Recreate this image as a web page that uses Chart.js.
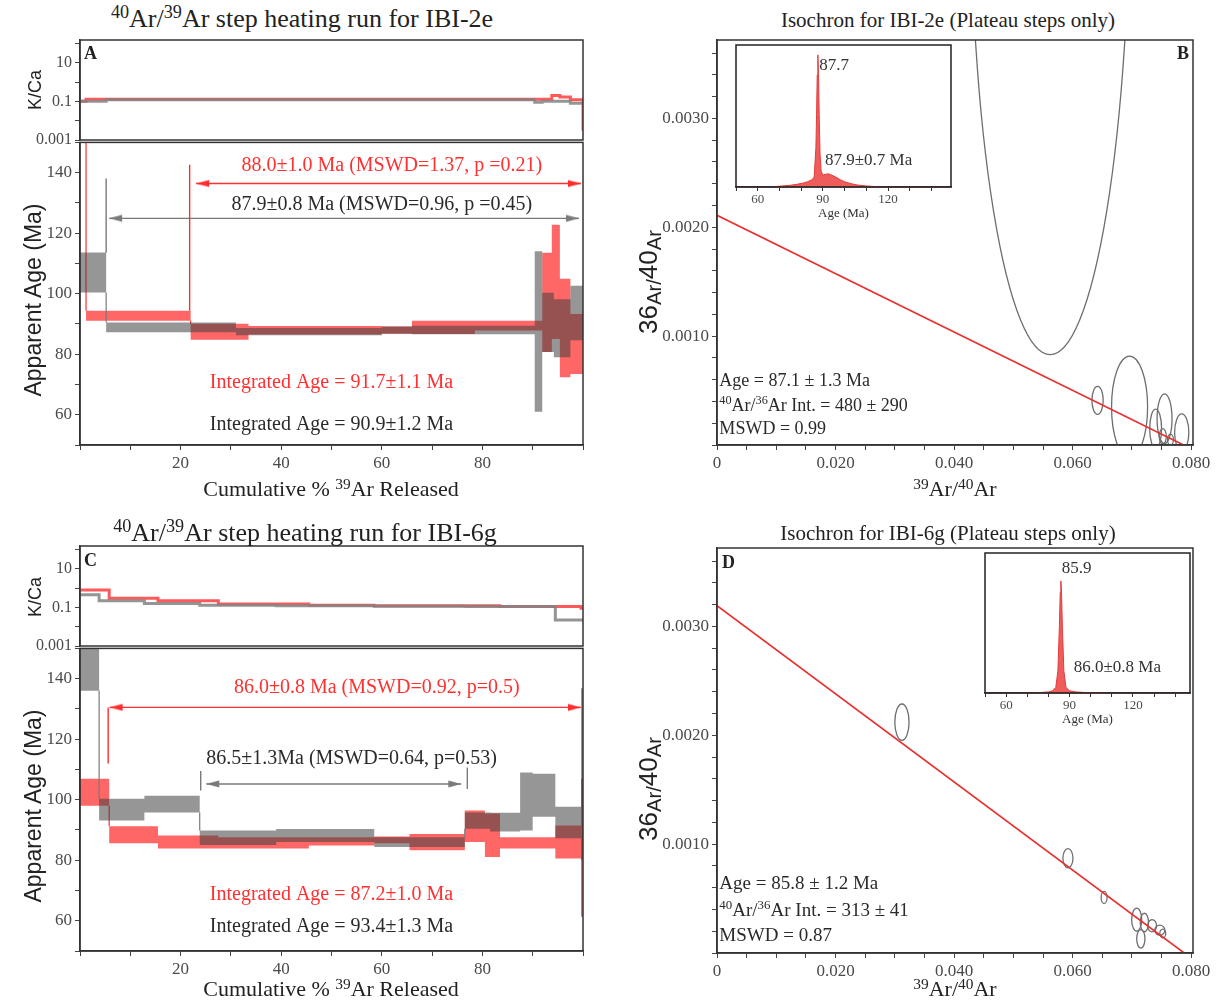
<!DOCTYPE html>
<html>
<head>
<meta charset="utf-8">
<title>40Ar/39Ar step heating spectra and isochrons</title>
<script src="https://cdn.jsdelivr.net/npm/chart.js@4.4.1/dist/chart.umd.min.js"></script>
<style>
  html,body{margin:0;padding:0;background:#fff;}
  #page{position:relative;width:1217px;height:1000px;overflow:hidden;background:#fff;font-family:"Liberation Serif","Times New Roman",serif;color:#222;}
  .box{position:absolute;z-index:1;}
  .inset{z-index:2;}
  .t{position:absolute;white-space:nowrap;line-height:1;z-index:5;}
  .ctr{transform:translate(-50%,-50%);}
  .rot{transform:translate(-50%,-50%) rotate(-90deg);}
  .sans{font-family:"Liberation Sans",Arial,sans-serif;}
  sup{font-size:70%;vertical-align:baseline;position:relative;top:-0.48em;}
  .lo{font-size:78%;position:relative;top:0.22em;}
  .lbl{font-weight:bold;font-size:18px;}
</style>
</head>
<body>
<div id="page">
  <div class="t ctr" style="left:302px;top:19px;font-size:26px;"><sup>40</sup>Ar/<sup>39</sup>Ar step heating run for IBI-2e</div>
  <div class="t ctr" style="left:948px;top:20px;font-size:21px;">Isochron for IBI-2e (Plateau steps only)</div>
  <div class="t ctr" style="left:305px;top:533px;font-size:26px;"><sup>40</sup>Ar/<sup>39</sup>Ar step heating run for IBI-6g</div>
  <div class="t ctr" style="left:948px;top:533px;font-size:21px;">Isochron for IBI-6g (Plateau steps only)</div>

  <div class="t ctr" style="left:331px;top:489px;font-size:22px;">Cumulative % <sup>39</sup>Ar Released</div>
  <div class="t ctr" style="left:331px;top:989px;font-size:22px;">Cumulative % <sup>39</sup>Ar Released</div>
  <div class="t ctr" style="left:955px;top:489px;font-size:22px;"><sup>39</sup>Ar/<sup>40</sup>Ar</div>
  <div class="t ctr" style="left:955px;top:989px;font-size:22px;"><sup>39</sup>Ar/<sup>40</sup>Ar</div>

  <div class="t rot sans" style="left:35px;top:90px;font-size:18px;">K/Ca</div>
  <div class="t rot sans" style="left:33px;top:300px;font-size:23px;">Apparent Age (Ma)</div>
  <div class="t rot sans" style="left:35px;top:597px;font-size:18px;">K/Ca</div>
  <div class="t rot sans" style="left:33px;top:806px;font-size:23px;">Apparent Age (Ma)</div>
  <div class="t rot sans" style="left:648px;top:282px;font-size:26px;">36<span class="lo">Ar/</span>40<span class="lo">Ar</span></div>
  <div class="t rot sans" style="left:648px;top:789px;font-size:26px;">36<span class="lo">Ar/</span>40<span class="lo">Ar</span></div>

  <div class="t lbl" style="left:84px;top:44px;">A</div>
  <div class="t lbl" style="left:1177px;top:44px;">B</div>
  <div class="t lbl" style="left:84px;top:551px;">C</div>
  <div class="t lbl" style="left:722px;top:553px;">D</div>
</div>
<script>
// ======================= DATA =======================
// Panel A: IBI-2e step heating (cumulative % 39Ar step boundaries, apparent age Ma, ±2σ half-width, K/Ca)
const A_grayBounds = [0, 5.2, 31, 60, 66, 90.4, 91.9, 94.2, 97.5, 100];
const A_grayAge    = [107.0, 88.9, 87.5, 88.0, 88.0, 87.5, 90.5, 88.6, 93.6];
const A_grayErr    = [6.6, 1.6, 1.2, 1.2, 1.4, 26.5, 9.8, 9.6, 9.0];
const A_grayKCa    = [0.10, 0.12, 0.12, 0.12, 0.12, 0.09, 0.10, 0.10, 0.08, 0.08]; // last entry: value at 100 %
const A_redBounds  = [0, 1.2, 22, 33.5, 60, 66, 78.5, 91.9, 93.8, 95.4, 97.5, 100];
const A_redAge     = [200, 92.75, 87.45, 87.9, 88.0, 88.9, 89.45, 97.1, 103.9, 88.65, 83.4];
const A_redErr     = [40, 1.65, 2.65, 1.4, 1.2, 2.2, 1.65, 16.4, 18.9, 16.25, 9.9];
const A_redKCa     = [0.10, 0.13, 0.13, 0.13, 0.13, 0.13, 0.13, 0.13, 0.20, 0.17, 0.12, 0.003];
// plateau markers [cum %, top age, bottom age] and arrows [from %, to %, age]
const A_redMarkers  = [[21.8, 142.6, 94.4]];
const A_grayMarkers = [[5.2, 138.1, 113.5]];
const A_redArrow    = [23.1, 99.6, 136.4];
const A_grayArrow   = [5.8, 99.2, 124.9];

// Panel C: IBI-6g step heating
const C_grayBounds = [0, 3.8, 12.8, 23.8, 39, 58.5, 76.5, 81.5, 87.5, 90, 94.5, 99.6, 100];
const C_grayAge    = [153, 96.7, 98.55, 87.4, 88.15, 86.0, 93.1, 92.6, 99.4, 101.5, 92.5, 108.4];
const C_grayErr    = [17, 3.6, 2.75, 2.4, 2.15, 1.6, 2.7, 3.1, 9.6, 7.1, 5.2, 28.4];
const C_grayKCa    = [0.45, 0.22, 0.16, 0.13, 0.12, 0.115, 0.11, 0.11, 0.11, 0.11, 0.022, 0.022, 0.022];
const C_redBounds  = [0, 5.8, 15.5, 27.5, 45.5, 58.5, 65.5, 76.5, 80.5, 83.5, 94.5, 99.6, 100];
const C_redAge     = [102.45, 88.4, 86.05, 85.75, 86.25, 86.7, 86.0, 91.2, 88.25, 85.75, 86.05, 84.1];
const C_redErr     = [4.45, 2.8, 2.15, 1.85, 1.35, 1.1, 2.7, 5.2, 7.15, 1.85, 5.45, 22.8];
const C_redKCa     = [0.79, 0.30, 0.22, 0.15, 0.13, 0.12, 0.12, 0.12, 0.12, 0.11, 0.11, 0.09, 0.09];
const C_redMarkers  = [[5.6, 130.5, 112]];
const C_grayMarkers = [[24, 109.5, 103], [77, 110.6, 103.5]];
const C_redArrow    = [5.9, 99.6, 130.5];
const C_grayArrow   = [25.1, 75.8, 105.2];

// Panel B: IBI-2e inverse isochron (error ellipses: centre and semi-axes) and regression line
const B_ellCx = [0.0562, 0.0642, 0.0696, 0.0740, 0.0755, 0.0784, 0.0752, 0.0765];
const B_ellCy = [0.00533, 0.00041, 0.000348, 0.000150, 0.000242, 0.000115, 0.00008, 0.00005];
const B_ellRx = [0.0135, 0.00095, 0.00304, 0.0010, 0.00126, 0.0012, 0.0006, 0.0005];
const B_ellRy = [0.0045, 0.000128, 0.000469, 0.00018, 0.000228, 0.00017, 0.00007, 0.00005];
const B_lineX = [0, 0.0787];
const B_lineY = [0.00211, 0];
// Panel B inset: probability density of ages
const B_insetAge  = [50, 65, 70, 75, 78, 81, 83, 85, 86, 86.8, 87.1, 87.4, 87.7, 88.0, 88.3, 88.7, 89.2, 90, 91, 92.5, 94, 96, 98, 100, 103, 106, 110, 115, 149];
const B_insetDens = [0, 0, 0.006, 0.013, 0.02, 0.03, 0.04, 0.055, 0.075, 0.3, 0.55, 0.85, 1.0, 0.85, 0.55, 0.25, 0.12, 0.09, 0.095, 0.1, 0.09, 0.075, 0.055, 0.04, 0.025, 0.015, 0.008, 0.002, 0];

// Panel D: IBI-6g inverse isochron
const D_ellCx = [0.0312, 0.0592, 0.0653, 0.0708, 0.0715, 0.0721, 0.0734, 0.0747, 0.0752];
const D_ellCy = [0.00212, 0.00087, 0.00051, 0.000306, 0.000130, 0.00028, 0.00025, 0.00021, 0.00018];
const D_ellRx = [0.0012, 0.00085, 0.0005, 0.00085, 0.0007, 0.0007, 0.00075, 0.00085, 0.0005];
const D_ellRy = [0.000167, 0.000088, 0.000056, 0.000106, 0.000085, 0.000085, 0.000056, 0.000046, 0.00004];
const D_lineX = [0, 0.0788];
const D_lineY = [0.00319, 0];
const D_insetAge  = [50, 70, 76, 80, 82, 83.5, 84.5, 85.2, 85.6, 85.9, 86.2, 86.6, 87.3, 88.3, 90, 93, 97, 103, 110, 147];
const D_insetDens = [0, 0, 0.004, 0.01, 0.02, 0.05, 0.2, 0.6, 0.9, 1.0, 0.9, 0.6, 0.2, 0.05, 0.02, 0.01, 0.005, 0.002, 0, 0];

// tick labels
const stepXLabels = [20, 40, 60, 80];
const ageLabels   = [60, 80, 100, 120, 140];
const kcaTicks    = [0.001, 0.01, 0.1, 1, 10, 100];
const kcaLabels   = [0.001, 0.1, 10];
const isoXLabels  = [0, 0.02, 0.04, 0.06, 0.08];
const isoYLabels  = [0.001, 0.002, 0.003];
const insetLabels = [60, 90, 120];

// ======================= STYLE =======================
const SERIF = '"Liberation Serif","Times New Roman",serif';
const RED_FILL = 'rgba(255,0,0,0.6)';
const GRAY_FILL = 'rgba(64,64,64,0.55)';
const RED_LN = '#ff2e2e';
const GRAY_LN = '#7a7a7a';
const RED_K = 'rgba(255,60,60,0.85)';
const GRAY_K = 'rgba(130,130,130,0.85)';
const RED_TXT = '#ff3030';
const GRAY_TXT = '#2a2a2a';
Chart.defaults.font.family = SERIF;

// ======================= HELPERS =======================
const PAGE = document.getElementById('page');
function makeCanvas(L, T, W, H, pad, cls) {
  const cw = W + pad.l + pad.r, ch = H + pad.t + pad.b;
  const wrap = document.createElement('div');
  wrap.className = 'box' + (cls ? ' ' + cls : '');
  wrap.style.left = (L - pad.l) + 'px'; wrap.style.top = (T - pad.t) + 'px';
  wrap.style.width = cw + 'px'; wrap.style.height = ch + 'px';
  const c = document.createElement('canvas');
  c.width = cw; c.height = ch; c.style.width = cw + 'px'; c.style.height = ch + 'px';
  wrap.appendChild(c); PAGE.appendChild(wrap);
  return c;
}
function ticksEvery(min, max, step) {
  return s => {
    const n = Math.floor((max - min) / step + 1e-6), t = [];
    for (let i = 0; i <= n; i++) t.push({ value: +(min + i * step).toFixed(8) });
    s.ticks = t;
  };
}
function labelOnly(list, fmt) {
  return v => list.some(l => Math.abs(l - v) < 1e-9 * Math.max(1, Math.abs(l))) ? fmt(v) : '';
}
function axis(pad, isX, o) {
  const ticks = Object.assign({ autoSkip: false, maxRotation: 0, minRotation: 0, color: '#4a4a4a', padding: 3,
                                font: { family: SERIF, size: 17 } }, o.ticks || {});
  const base = {
    display: true,
    grid: { drawOnChartArea: false, drawTicks: true, tickLength: 5, color: '#444', lineWidth: 1 },
    border: { display: true, color: '#333', width: 1.5 },
    afterFit: isX ? (s => { s.height = pad.b; s.paddingLeft = 0; s.paddingRight = 0; })
                  : (s => { s.width = pad.l; s.paddingTop = 0; s.paddingBottom = 0; })
  };
  return Object.assign(base, o, { ticks });
}
function makeChart(canvas, datasets, scales, pad, plugins) {
  return new Chart(canvas, {
    type: 'line',
    data: { datasets },
    options: {
      responsive: false, animation: false, events: [],
      layout: { padding: { left: scales.y.display === false ? pad.l : 0, top: pad.t, right: pad.r,
                           bottom: scales.x.display === false ? pad.b : 0 } },
      plugins: { legend: { display: false }, tooltip: { enabled: false } },
      scales
    },
    plugins
  });
}
function framePlugin(color, width) {
  return { id: 'frame', afterDraw(chart) {
    const a = chart.chartArea, ctx = chart.ctx;
    ctx.save(); ctx.strokeStyle = color || '#333'; ctx.lineWidth = width || 1.5;
    ctx.strokeRect(a.left, a.top, a.right - a.left, a.bottom - a.top); ctx.restore();
  } };
}
function drawRich(ctx, segs, x, y, o) {
  const size = o.size || 17, fam = o.family || SERIF, wt = o.bold ? 'bold ' : '';
  const parts = (typeof segs === 'string' ? [{ t: segs }] : segs).map(s => {
    const fs = s.sup ? size * 0.68 : size;
    ctx.font = wt + fs + 'px ' + fam;
    return { t: s.t, fs, w: ctx.measureText(s.t).width, sup: !!s.sup };
  });
  const total = parts.reduce((a, p) => a + p.w, 0);
  let cx = o.align === 'left' ? x : (o.align === 'right' ? x - total : x - total / 2);
  const base = y + size * 0.33;
  ctx.fillStyle = o.color || '#222'; ctx.textAlign = 'left'; ctx.textBaseline = 'alphabetic';
  parts.forEach(p => { ctx.font = wt + p.fs + 'px ' + fam; ctx.fillText(p.t, cx, p.sup ? base - size * 0.38 : base); cx += p.w; });
}
function annotPlugin(items) {
  return { id: 'annot', afterDatasetsDraw(chart) {
    const ctx = chart.ctx, xs = chart.scales.x, ys = chart.scales.y;
    ctx.save();
    items.forEach(it => drawRich(ctx, it.segs, xs.getPixelForValue(it.x), ys.getPixelForValue(it.y), it));
    ctx.restore();
  } };
}
function ellipsePlugin(cx, cy, rx, ry) {
  return { id: 'ellipses', beforeDatasetsDraw(chart) {
    const xs = chart.scales.x, ys = chart.scales.y, ctx = chart.ctx, a = chart.chartArea;
    ctx.save(); ctx.beginPath(); ctx.rect(a.left, a.top, a.right - a.left, a.bottom - a.top); ctx.clip();
    ctx.strokeStyle = '#6e6e6e'; ctx.lineWidth = 1.3;
    for (let i = 0; i < cx.length; i++) {
      const px = xs.getPixelForValue(cx[i]), py = ys.getPixelForValue(cy[i]);
      const prx = Math.abs(xs.getPixelForValue(cx[i] + rx[i]) - px);
      const pry = Math.abs(ys.getPixelForValue(cy[i] + ry[i]) - py);
      ctx.beginPath(); ctx.ellipse(px, py, prx, pry, 0, 0, Math.PI * 2); ctx.stroke();
    }
    ctx.restore();
  } };
}
function arrowHead(color) {
  const c = document.createElement('canvas'); c.width = 28; c.height = 10;
  const g = c.getContext('2d'); g.fillStyle = color;
  g.beginPath(); g.moveTo(14, 5); g.lineTo(1, 1.5); g.lineTo(1, 8.5); g.closePath(); g.fill();
  return c;
}
const arrowRed = arrowHead(RED_LN), arrowGray = arrowHead(GRAY_LN);

function stepDatasets(bounds, age, err, fill, line, order) {
  const n = age.length, up = [], lo = [], conn = [];
  for (let i = 0; i < n; i++) { up.push({ x: bounds[i], y: age[i] + err[i] }); lo.push({ x: bounds[i], y: age[i] - err[i] }); }
  up.push({ x: bounds[n], y: age[n - 1] + err[n - 1] }); lo.push({ x: bounds[n], y: age[n - 1] - err[n - 1] });
  for (let i = 0; i < n - 1; i++) {
    const lo1 = age[i] - err[i], hi1 = age[i] + err[i], lo2 = age[i + 1] - err[i + 1], hi2 = age[i + 1] + err[i + 1];
    let a = null, b = null;
    if (lo1 > hi2) { a = lo1; b = hi2; } else if (hi1 < lo2) { a = hi1; b = lo2; }
    if (a !== null) conn.push({ x: bounds[i + 1], y: a }, { x: bounds[i + 1], y: b }, { x: bounds[i + 1], y: null });
  }
  const clear = 'rgba(0,0,0,0)';
  return [
    { data: up, stepped: true, borderColor: clear, borderWidth: 0, pointRadius: 0, fill: false, order },
    { data: lo, stepped: true, borderColor: clear, borderWidth: 0, pointRadius: 0, fill: '-1', backgroundColor: fill, order },
    { data: conn, borderColor: line, borderWidth: 1.2, pointRadius: 0, fill: false, spanGaps: false, order }
  ];
}
function kcaDataset(bounds, kca, color, order) {
  return { data: bounds.map((b, i) => ({ x: b, y: kca[i] })), stepped: true, borderColor: color, borderWidth: 3,
           pointRadius: 0, fill: false, order };
}
function markerDatasets(markers, color) {
  return markers.map(m => ({ data: [{ x: m[0], y: m[1] }, { x: m[0], y: m[2] }], borderColor: color, borderWidth: 1.4,
                             pointRadius: 0, fill: false, order: 0 }));
}
function arrowDataset(ar, color, img) {
  return { data: [{ x: ar[0], y: ar[2] }, { x: ar[1], y: ar[2] }], borderColor: color, borderWidth: 1.4, fill: false,
           pointStyle: img, pointRadius: 6, pointRotation: [180, 0], order: 0 };
}

// ======================= STEP HEATING PANELS =======================
function stepPanel(top, d) {
  const padK = { l: 80, t: 2, r: 8, b: 10 };
  makeChart(makeCanvas(80, top, 503, 100, padK),
    [kcaDataset(d.gb, d.gk, GRAY_K, 1), kcaDataset(d.rb, d.rk, RED_K, 2)],
    { x: { type: 'linear', min: 0, max: 100, display: false },
      y: axis(padK, false, { type: 'logarithmic', min: 0.001, max: 150,
                             afterBuildTicks: s => { s.ticks = kcaTicks.map(v => ({ value: v })); },
                             ticks: { font: { family: SERIF, size: 16 }, callback: labelOnly(kcaLabels, v => String(v)) } }) },
    padK, [framePlugin()]);

  const padA = { l: 80, t: 5, r: 8, b: 40 };
  makeChart(makeCanvas(80, top + 100, 503, 305, padA),
    [...markerDatasets(d.rm, RED_LN), ...markerDatasets(d.gm, GRAY_LN),
     arrowDataset(d.ra, RED_LN, arrowRed), arrowDataset(d.ga, GRAY_LN, arrowGray),
     ...stepDatasets(d.gb, d.gAge, d.gErr, GRAY_FILL, GRAY_LN, 1),
     ...stepDatasets(d.rb, d.rAge, d.rErr, RED_FILL, RED_LN, 2)],
    { x: axis(padA, true, { type: 'linear', min: 0, max: 100, afterBuildTicks: ticksEvery(0, 100, 10),
                            ticks: { callback: labelOnly(stepXLabels, v => String(v)) } }),
      y: axis(padA, false, { type: 'linear', min: 50, max: 150, afterBuildTicks: ticksEvery(50, 150, 10),
                             ticks: { callback: labelOnly(ageLabels, v => String(v)) } }) },
    padA, [annotPlugin(d.texts), framePlugin()]);
}

stepPanel(40, {
  gb: A_grayBounds, gAge: A_grayAge, gErr: A_grayErr, gk: A_grayKCa,
  rb: A_redBounds, rAge: A_redAge, rErr: A_redErr, rk: A_redKCa,
  rm: A_redMarkers, gm: A_grayMarkers, ra: A_redArrow, ga: A_grayArrow,
  texts: [
    { x: 62, y: 142.6, segs: '88.0\u00b11.0 Ma (MSWD=1.37, p =0.21)', color: RED_TXT, size: 20 },
    { x: 60, y: 129.8, segs: '87.9\u00b10.8 Ma (MSWD=0.96, p =0.45)', color: GRAY_TXT, size: 20 },
    { x: 50, y: 71, segs: 'Integrated Age = 91.7\u00b11.1 Ma', color: RED_TXT, size: 20 },
    { x: 50, y: 57.3, segs: 'Integrated Age = 90.9\u00b11.2 Ma', color: GRAY_TXT, size: 20 }
  ]
});
stepPanel(546, {
  gb: C_grayBounds, gAge: C_grayAge, gErr: C_grayErr, gk: C_grayKCa,
  rb: C_redBounds, rAge: C_redAge, rErr: C_redErr, rk: C_redKCa,
  rm: C_redMarkers, gm: C_grayMarkers, ra: C_redArrow, ga: C_grayArrow,
  texts: [
    { x: 59, y: 137.4, segs: '86.0\u00b10.8 Ma (MSWD=0.92, p=0.5)', color: RED_TXT, size: 20 },
    { x: 54, y: 113.9, segs: '86.5\u00b11.3Ma (MSWD=0.64, p=0.53)', color: GRAY_TXT, size: 20 },
    { x: 50, y: 69.2, segs: 'Integrated Age = 87.2\u00b11.0 Ma', color: RED_TXT, size: 20 },
    { x: 50, y: 58.5, segs: 'Integrated Age = 93.4\u00b11.3 Ma', color: GRAY_TXT, size: 20 }
  ]
});

// ======================= ISOCHRON PANELS =======================
function isoPanel(top, d) {
  const padI = { l: 75, t: 4, r: 22, b: 40 };
  makeChart(makeCanvas(717, top, 476, 405, padI),
    [{ data: d.lx.map((x, i) => ({ x, y: d.ly[i] })), borderColor: '#e8302f', borderWidth: 1.6, pointRadius: 0, fill: false }],
    { x: axis(padI, true, { type: 'linear', min: 0, max: 0.0803, afterBuildTicks: ticksEvery(0, 0.0803, 0.005),
                            ticks: { callback: labelOnly(isoXLabels, v => v === 0 ? '0' : v.toFixed(3)) } }),
      y: axis(padI, false, { type: 'linear', min: 0, max: 0.00372, afterBuildTicks: ticksEvery(0, 0.00372, 0.0002),
                             ticks: { callback: labelOnly(isoYLabels, v => v.toFixed(4)) } }) },
    padI, [ellipsePlugin(d.cx, d.cy, d.rx, d.ry), annotPlugin(d.texts), framePlugin()]);

  const padIn = { l: 2, t: 2, r: 10, b: 34 };
  makeChart(makeCanvas(d.inL, d.inT, d.inW, d.inH, padIn, 'inset'),
    [{ data: d.ia.map((a, i) => ({ x: a, y: d.id[i] })), borderColor: '#e23c3c', borderWidth: 1,
       backgroundColor: 'rgba(236,70,70,0.88)', fill: 'origin', pointRadius: 0 }],
    { x: axis(padIn, true, { type: 'linear', min: 50, max: d.inMax, afterBuildTicks: ticksEvery(50, d.inMax, 10),
                             grid: { drawOnChartArea: false, drawTicks: true, tickLength: 4, color: '#333', lineWidth: 1 },
                             ticks: { font: { family: SERIF, size: 13 }, padding: 1, callback: labelOnly(insetLabels, v => String(v)) },
                             title: { display: true, text: 'Age (Ma)', color: '#333', font: { family: SERIF, size: 13 }, padding: { top: 1, bottom: 0 } } }),
      y: { type: 'linear', min: 0, max: d.inYMax, display: false } },
    padIn, [annotPlugin(d.itexts), framePlugin('#222', 1.5)]);
}

isoPanel(40, {
  lx: B_lineX, ly: B_lineY, cx: B_ellCx, cy: B_ellCy, rx: B_ellRx, ry: B_ellRy,
  texts: [
    { x: 0.0004, y: 0.000596, segs: 'Age = 87.1 \u00b1 1.3 Ma', align: 'left', size: 18, color: GRAY_TXT },
    { x: 0.0004, y: 0.000367, segs: [{ t: '40', sup: 1 }, { t: 'Ar/' }, { t: '36', sup: 1 }, { t: 'Ar Int. = 480 \u00b1 290' }], align: 'left', size: 18, color: GRAY_TXT },
    { x: 0.0004, y: 0.000156, segs: 'MSWD = 0.99', align: 'left', size: 18, color: GRAY_TXT }
  ],
  inL: 736, inT: 45, inW: 215, inH: 142, inMax: 149, inYMax: 1.075,
  ia: B_insetAge, id: B_insetDens,
  itexts: [
    { x: 88.3, y: 0.93, segs: '87.7', align: 'left', size: 17, color: '#333' },
    { x: 91.0, y: 0.21, segs: '87.9\u00b10.7 Ma', align: 'left', size: 17, color: '#333' }
  ]
});
isoPanel(548, {
  lx: D_lineX, ly: D_lineY, cx: D_ellCx, cy: D_ellCy, rx: D_ellRx, ry: D_ellRy,
  texts: [
    { x: 0.0004, y: 0.000642, segs: 'Age = 85.8 \u00b1 1.2 Ma', align: 'left', size: 19, color: GRAY_TXT },
    { x: 0.0004, y: 0.000394, segs: [{ t: '40', sup: 1 }, { t: 'Ar/' }, { t: '36', sup: 1 }, { t: 'Ar Int. = 313 \u00b1 41' }], align: 'left', size: 19, color: GRAY_TXT },
    { x: 0.0004, y: 0.000165, segs: 'MSWD = 0.87', align: 'left', size: 19, color: GRAY_TXT }
  ],
  inL: 985, inT: 553, inW: 205, inH: 140, inMax: 147, inYMax: 1.25,
  ia: D_insetAge, id: D_insetDens,
  itexts: [
    { x: 86.3, y: 1.12, segs: '85.9', align: 'left', size: 17, color: '#333' },
    { x: 92.0, y: 0.24, segs: '86.0\u00b10.8 Ma', align: 'left', size: 17, color: '#333' }
  ]
});
</script>
</body>
</html>
